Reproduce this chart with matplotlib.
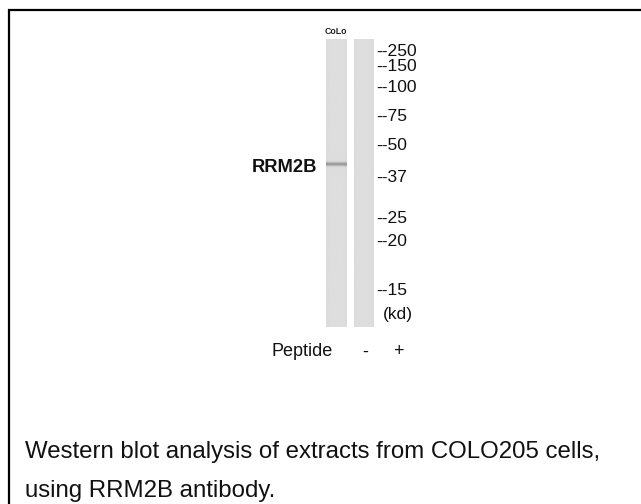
import numpy as np
import matplotlib
matplotlib.use("Agg")
import matplotlib.pyplot as plt

# ---- data ----
marker_labels = ["--250", "--150", "--100", "--75", "--50", "--37", "--25", "--20", "--15"]
marker_migration = [51.0, 66.5, 88.0, 116.7, 145.0, 177.5, 218.3, 242.0, 290.7]  # pixel rows
unit_label = "(kd)"
lane_signs = ["-", "+"]
band_migration = 164.6
band_intensity = [0.36, 0.0]
protein = "RRM2B"
sample = "CoLo"
caption_lines = ["Western blot analysis of extracts from COLO205 cells,",
                 "using RRM2B antibody."]

W, H = 641, 504
fig = plt.figure(figsize=(W / 100, H / 100), dpi=100)
ax = fig.add_axes([0, 0, 1, 1])
ax.set_xlim(0, W)
ax.set_ylim(H, 0)
ax.axis("off")

# border (left + top, running off the image)
ax.plot([9, 9, W + 5], [H + 5, 10, 10], color="black", lw=1.6, solid_capstyle="butt",
        solid_joinstyle="miter")

lane_x = [(326, 347), (354, 374)]
lane_top, lane_bot = 40, 327.5
for (x0, x1), inten in zip(lane_x, band_intensity):
    rows = np.arange(lane_top, lane_bot, 0.5)
    prof = 222 - inten * 200 * np.exp(-0.5 * ((rows - band_migration) / 1.3) ** 2)
    img = np.repeat(prof[:, None], 8, axis=1)
    img[:, 0] -= 2
    img[:, -1] -= 2
    img = np.clip(img, 0, 255) / 255.0
    ax.imshow(np.dstack([img, img, img]), extent=(x0, x1, lane_bot, lane_top),
              aspect="auto", interpolation="bilinear", zorder=2)

ax.set_xlim(0, W)
ax.set_ylim(H, 0)

lab_font = ["Liberation Sans", "DejaVu Sans"]
ax.text(336, 32, sample, fontsize=6.3, fontweight="bold", family=lab_font,
        ha="center", va="center", color="#222222")

for lab, y in zip(marker_labels, marker_migration):
    ax.text(376.5, y, lab, fontsize=12.6, family=lab_font, ha="left",
            va="center", color="#111111")
ax.text(382.5, 315, unit_label, fontsize=12.6, family=lab_font, ha="left",
        va="center", color="#111111")

ax.text(317, 167.5, protein, fontsize=13.2, fontweight="bold", family=lab_font,
        ha="right", va="center", color="#111111")

ax.text(302.5, 352, "Peptide", fontsize=13, family=lab_font, ha="center", va="center",
        color="#111111")
for s, x in zip(lane_signs, [365, 398]):
    ax.text(x, 352, s, fontsize=13, family=lab_font, ha="center", va="center",
            color="#111111")

for line, yb in zip(caption_lines, [457.7, 496.7]):
    ax.text(25, yb, line, fontsize=17.3, family=lab_font, ha="left",
            va="baseline", color="#111111")

fig.savefig("out.png", dpi=100)
